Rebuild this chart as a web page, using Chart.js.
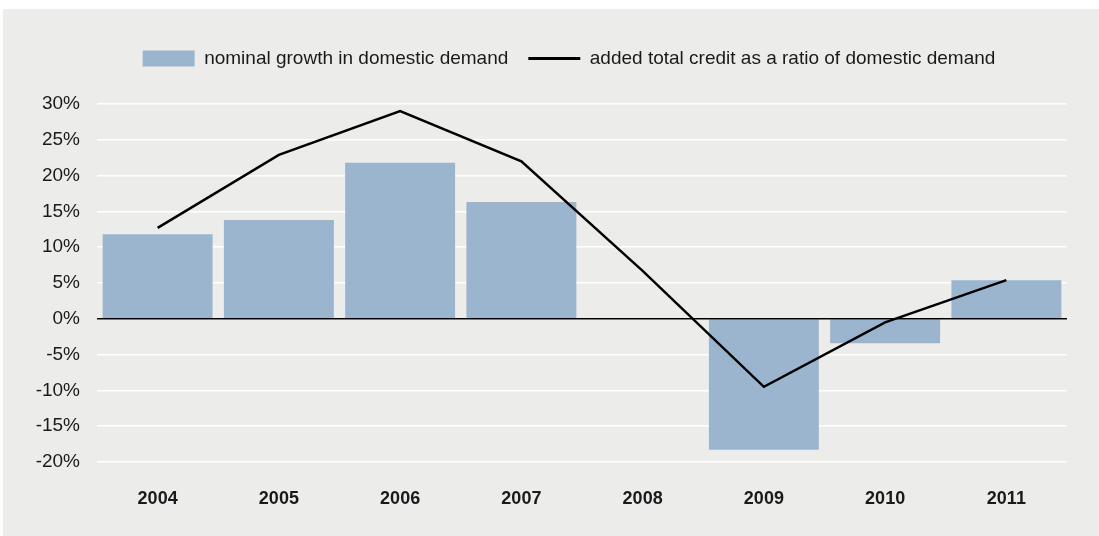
<!DOCTYPE html>
<html>
<head>
<meta charset="utf-8">
<script src="https://cdn.jsdelivr.net/npm/chart.js@4/dist/chart.umd.min.js"></script>
<style>
  body { margin: 0; background: #fff; }
  #panel { position: absolute; left: 3px; top: 9px; width: 1096px; height: 527px; background: #ecedeb; }
</style>
</head>
<body>
<div id="panel"><canvas id="myChart" width="1096" height="527"></canvas></div>
<script>
const years = ["2004", "2005", "2006", "2007", "2008", "2009", "2010", "2011"];
// nominal growth in domestic demand, %
const demandGrowth = [11.8, 13.8, 21.8, 16.3, 0, -18.3, -3.4, 5.4];
// added total credit as a ratio of domestic demand, %
const creditRatio = [12.7, 22.9, 29.0, 22.0, 6.7, -9.5, -0.5, 5.4];
const yTicks = { min: -20, max: 30, step: 5 };

const textColor = "#1a1a1a";
const fontFamily = "'Liberation Sans', Arial, Helvetica, sans-serif";

// extra room under the legend, and nudge it a little to the right
const legendTweaks = {
  id: "legendTweaks",
  beforeInit(chart) {
    const fit = chart.legend.fit;
    chart.legend.fit = function () {
      fit.call(this);
      this.height += 26;
    };
  },
  afterLayout(chart) {
    chart.legend.left += 18;
    chart.legend.right += 18;
  },
};

// black zero line, drawn over the bars but under the credit line
const zeroLine = {
  id: "zeroLine",
  afterDatasetDraw(chart, args) {
    if (args.index !== 0) return;
    const { ctx, chartArea } = chart;
    const y = chart.scales.y.getPixelForValue(0);
    ctx.save();
    ctx.strokeStyle = "#000";
    ctx.lineWidth = 1.5;
    ctx.beginPath();
    ctx.moveTo(chartArea.left, y);
    ctx.lineTo(chartArea.right, y);
    ctx.stroke();
    ctx.restore();
  },
};

const data = {
  labels: years,
  datasets: [
    {
      type: "bar",
      label: "nominal growth in domestic demand",
      data: demandGrowth,
      backgroundColor: "#9bb5cf",
      borderWidth: 0,
      categoryPercentage: 1,
      barPercentage: 0.907,
      order: 1,
    },
    {
      type: "line",
      label: "added total credit as a ratio of domestic demand",
      data: creditRatio,
      borderColor: "#000",
      backgroundColor: "#000",
      borderWidth: 2.5,
      pointRadius: 0,
      tension: 0,
      fill: false,
      order: 0,
    },
  ],
};

const config = {
  data,
  options: {
    responsive: false,
    animation: false,
    layout: { padding: { left: 0, right: 0, top: 20, bottom: 0 } },
    plugins: {
      tooltip: { enabled: false },
      legend: {
        position: "top",
        labels: {
          usePointStyle: true,
          pointStyleWidth: 52,
          boxHeight: 16,
          padding: 20,
          color: textColor,
          font: { family: fontFamily, size: 19 },
          generateLabels(chart) {
            const items = Chart.defaults.plugins.legend.labels.generateLabels(chart);
            items.sort((a, b) => a.datasetIndex - b.datasetIndex);
            items.forEach((item) => {
              if (item.datasetIndex === 0) {
                item.pointStyle = "rect";
                item.fillStyle = "#9bb5cf";
                item.lineWidth = 0;
              } else {
                item.pointStyle = "line";
                item.strokeStyle = "#000";
                item.lineWidth = 3;
              }
            });
            return items;
          },
        },
      },
    },
    scales: {
      x: {
        grid: { display: false, drawTicks: false },
        border: { display: false },
        ticks: {
          color: textColor,
          padding: 26,
          font: { family: fontFamily, size: 18, weight: "bold" },
        },
        afterFit(scale) {
          scale.height = 74;
        },
      },
      y: {
        min: yTicks.min,
        max: yTicks.max,
        border: { display: false },
        grid: { color: "#ffffff", lineWidth: 1.5, drawTicks: false },
        ticks: {
          stepSize: yTicks.step,
          padding: 17,
          color: textColor,
          font: { family: fontFamily, size: 19 },
          callback: (v) => v + "%",
        },
        afterFit(scale) {
          scale.width = 94;
        },
      },
      // empty right-hand axis, only keeps a margin on the right
      yRight: {
        position: "right",
        grid: { display: false, drawTicks: false },
        border: { display: false },
        ticks: { display: false },
        afterFit(scale) {
          scale.width = 32;
        },
      },
    },
  },
  plugins: [legendTweaks, zeroLine],
};

let myChart = new Chart(document.getElementById("myChart"), config);
</script>
</body>
</html>
